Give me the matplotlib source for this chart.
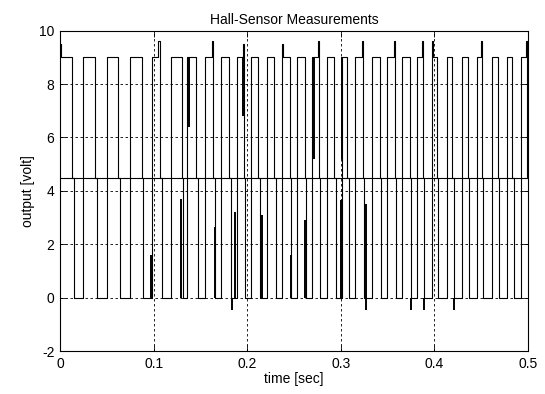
import matplotlib
matplotlib.use("Agg")
import matplotlib.pyplot as plt

plt.rcParams['font.family'] = ['Liberation Sans', 'DejaVu Sans']

# Sensor A: change points (time [s], level [V]) - toggles between 4.5 and 9
A_t = [0.0, 0.0015, 0.0131, 0.0249, 0.0374, 0.0499, 0.0623, 0.0748, 0.0873,
       0.0980, 0.1050, 0.1068, 0.1183, 0.1300, 0.1360, 0.1453, 0.1549, 0.1620,
       0.1638, 0.1717, 0.1809, 0.1894, 0.1955, 0.1966, 0.2041, 0.2119, 0.2208,
       0.2290, 0.2368, 0.2380, 0.2457, 0.2529, 0.2618, 0.2689, 0.2752, 0.2767,
       0.2849, 0.2930, 0.3010, 0.3070, 0.3152, 0.3225, 0.3237, 0.3333, 0.3419,
       0.3494, 0.3567, 0.3579, 0.3654, 0.3739, 0.3814, 0.3866, 0.3878, 0.3974,
       0.3986, 0.4028, 0.4131, 0.4191, 0.4292, 0.4356, 0.4452, 0.4494, 0.4506,
       0.4612, 0.4676, 0.4772, 0.4832, 0.4925, 0.4975, 0.4989, 0.5]
A_v = [9.5, 9.0, 4.5, 9.0, 4.5, 9.0, 4.5, 9.0, 4.5,
       9.0, 9.6, 4.5, 9.0, 4.5, 9.0, 4.5, 9.0, 9.6,
       4.5, 9.0, 4.5, 9.0, 9.5, 4.5, 9.0, 4.5, 9.0,
       4.5, 9.5, 9.0, 4.5, 9.0, 4.5, 9.0, 9.6, 4.5,
       9.0, 4.5, 9.0, 4.5, 9.0, 9.6, 4.5, 9.0, 4.5,
       9.0, 9.6, 4.5, 9.0, 4.5, 9.0, 9.6, 4.5, 9.6,
       9.0, 4.5, 9.0, 4.5, 9.0, 4.5, 9.0, 9.6, 4.5,
       9.0, 4.5, 9.0, 4.5, 9.0, 9.6, 4.5, 4.5]

# Sensor B: change points - toggles between 4.5 and 0
B_t = [0.0, 0.0152, 0.0249, 0.0395, 0.0499, 0.0640, 0.0748, 0.0890, 0.0980,
       0.1085, 0.1183, 0.1315, 0.1360, 0.1470, 0.1549, 0.1655, 0.1717, 0.1825,
       0.1894, 0.1980, 0.2041, 0.2135, 0.2208, 0.2305, 0.2368, 0.2472, 0.2529,
       0.2632, 0.2689, 0.2782, 0.2849, 0.2945, 0.3010, 0.3085, 0.3152, 0.3252,
       0.3333, 0.3433, 0.3494, 0.3594, 0.3654, 0.3753, 0.3814, 0.3892, 0.3974,
       0.4042, 0.4131, 0.4205, 0.4292, 0.4370, 0.4452, 0.4520, 0.4612, 0.4690,
       0.4772, 0.4846, 0.4925, 0.5]
B_v = [4.5, 0.0, 4.5, 0.0, 4.5, 0.0, 4.5, 0.0, 4.5,
       0.0, 4.5, 0.0, 4.5, 0.0, 4.5, 0.0, 4.5, 0.0,
       4.5, 0.0, 4.5, 0.0, 4.5, 0.0, 4.5, 0.0, 4.5,
       0.0, 4.5, 0.0, 4.5, 0.0, 4.5, 0.0, 4.5, 0.0,
       4.5, 0.0, 4.5, 0.0, 4.5, 0.0, 4.5, 0.0, 4.5,
       0.0, 4.5, 0.0, 4.5, 0.0, 4.5, 0.0, 4.5, 0.0,
       4.5, 0.0, 4.5, 4.5]

# Switching glitches (time, low, high)
glitch_t = [0.0967, 0.1293, 0.1378, 0.1661, 0.1838, 0.1870, 0.1952, 0.2155,
            0.2466, 0.2618, 0.2714, 0.2997, 0.3018, 0.3264, 0.3755, 0.3889, 0.4209]
glitch_lo = [0.0, 0.0, 6.4, 0.0, -0.47, 0.0, 6.8, 0.0,
             0.0, 0.0, 5.2, 0.0, 5.2, -0.47, -0.47, -0.47, -0.47]
glitch_hi = [1.6, 3.7, 9.0, 2.65, 0.0, 3.2, 9.0, 3.1,
             1.6, 2.9, 9.0, 3.65, 9.0, 3.5, 0.0, 0.0, 0.0]

x_ticks = [0, 0.1, 0.2, 0.3, 0.4, 0.5]
y_ticks = [-2, 0, 2, 4, 6, 8, 10]

fig = plt.figure(figsize=(5.45, 3.94), dpi=100)
ax = fig.add_axes([0.1101, 0.1091, 0.8587, 0.8129])

ax.step(A_t, A_v, where='post', color='black', lw=0.8)
ax.step(B_t, B_v, where='post', color='black', lw=0.8)
ax.vlines(glitch_t, glitch_lo, glitch_hi, color='black', lw=1.4)

ax.set_xlim(0, 0.5)
ax.set_ylim(-2, 10)
ax.set_xticks(x_ticks)
ax.set_xticklabels(['0', '0.1', '0.2', '0.3', '0.4', '0.5'])
ax.set_yticks(y_ticks)
ax.set_yticklabels([str(v) for v in y_ticks])

ax.grid(True, color='black', linestyle=(0, (3, 3)), lw=0.6)
ax.tick_params(direction='in', length=4, width=0.6, top=True, right=True,
               labelsize=10, pad=4)
for s in ax.spines.values():
    s.set_linewidth(0.8)

ax.set_title('Hall-Sensor Measurements', fontsize=10, pad=5)
ax.set_xlabel('time [sec]', fontsize=10, labelpad=1)
ax.set_ylabel('output [volt]', fontsize=10, labelpad=3)

fig.savefig('out.png', dpi=100)
